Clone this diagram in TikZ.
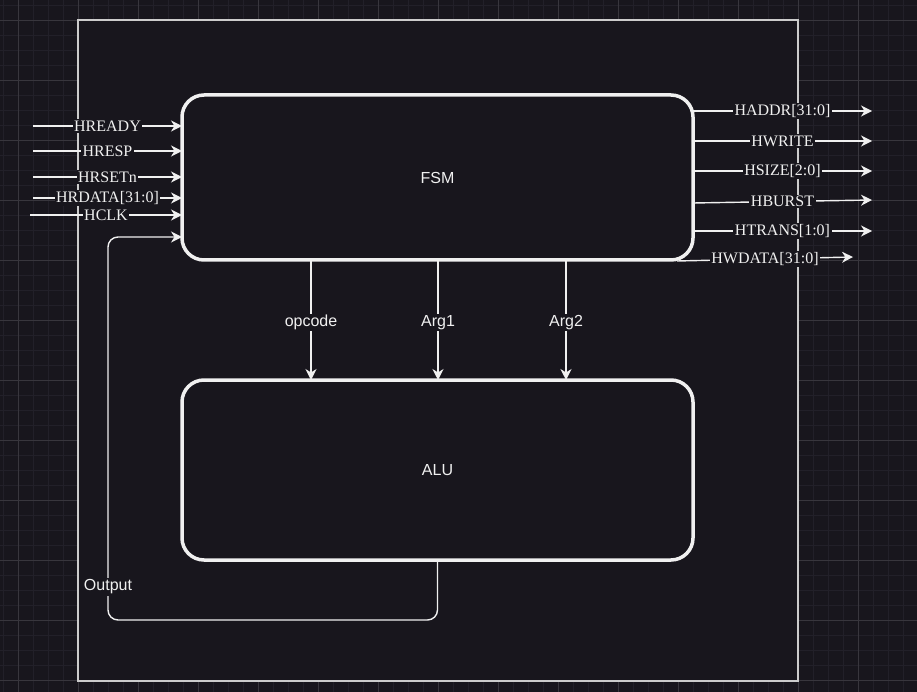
\documentclass[tikz,border=0pt]{standalone}
\usepackage{fontspec}
\setmainfont{Liberation Serif}
\newfontfamily\lsans{Liberation Sans}
\usetikzlibrary{arrows.meta}
\definecolor{bgc}{HTML}{18161D}
\definecolor{gmin}{HTML}{222029}
\definecolor{gmaj}{HTML}{38363D}
\definecolor{framec}{HTML}{CCCCCC}
\definecolor{ink}{HTML}{F0F0F0}
\begin{document}
\begin{tikzpicture}[x=1pt,y=-1pt,
  box/.style={draw=ink, line width=3.5pt, rounded corners=22pt, minimum width=511pt, inner sep=0pt, outer sep=0pt, text=ink, font=\lsans\fontsize{16}{19}\selectfont},
  wire/.style={draw=ink, line width=1.4pt, -{Stealth[length=11pt,width=11pt,inset=3.5pt]}},
  sig/.style={fill=bgc, text=ink, inner sep=1.5pt, font=\fontsize{16}{19}\selectfont},
  ssig/.style={fill=bgc, text=ink, inner sep=1.5pt, font=\lsans\fontsize{16}{19}\selectfont}]
\useasboundingbox (0,0) rectangle (917,692);
\fill[bgc] (0,0) rectangle (917,692);
% grid
\foreach \i in {0,...,61} \draw[gmin, line width=0.8pt] ({3+15*\i},0) -- ({3+15*\i},692);
\foreach \i in {0,...,46} \draw[gmin, line width=0.8pt] (0,{5+15*\i}) -- (917,{5+15*\i});
\foreach \i in {0,...,15} \draw[gmaj, line width=0.8pt] ({18+60*\i},0) -- ({18+60*\i},692);
\foreach \i in {0,...,11} \draw[gmaj, line width=0.8pt] (0,{20+60*\i}) -- (917,{20+60*\i});
% outer frame
\node[draw=framec, fill=bgc, line width=1.6pt, minimum width=720pt, minimum height=661pt, inner sep=0pt, outer sep=0pt] (outer) at (438,350.5) {};
% main blocks
\node[box, minimum height=165pt] (fsm) at (437.5,177.5) {FSM};
\node[box, minimum height=180pt] (alu) at (437.5,470) {ALU};
% inputs
\coordinate (iready) at (33,126);
\coordinate (iresp) at (33,151);
\coordinate (irst) at (33,177);
\coordinate (irdata) at (33,198);
\coordinate (iclk) at (30,215);
\draw[wire] (iready) -- (iready -| fsm.west) node[midway, sig] (lready) {HREADY};
\draw[wire] (iresp) -- (iresp -| fsm.west) node[midway, sig] (lresp) {HRESP};
\draw[wire] (irst) -- (irst -| fsm.west) node[midway, sig] (lrst) {HRSETn};
\draw[wire] (irdata) -- (irdata -| fsm.west) node[midway, sig] (lrdata) {HRDATA[31:0]};
\draw[wire] (iclk) -- (iclk -| fsm.west) node[midway, sig] (lclk) {HCLK};
% outputs
\coordinate (oaddr) at (872,111);
\coordinate (owrite) at (872,141);
\coordinate (osize) at (872,171);
\coordinate (sburst) at (693,203);
\coordinate (oburst) at (872,200);
\coordinate (otrans) at (872,231);
\coordinate (swdata) at (677,261);
\coordinate (owdata) at (853,257);
\draw[wire] (fsm.east |- oaddr) -- (oaddr) node[midway, sig] (laddr) {HADDR[31:0]};
\draw[wire] (fsm.east |- owrite) -- (owrite) node[midway, sig] (lwrite) {HWRITE};
\draw[wire] (fsm.east |- osize) -- (osize) node[midway, sig] (lsize) {HSIZE[2:0]};
\draw[wire] (sburst) -- (oburst) node[midway, sig] (lburst) {HBURST};
\draw[wire] (fsm.east |- otrans) -- (otrans) node[midway, sig] (ltrans) {HTRANS[1:0]};
\draw[wire] (swdata) -- (owdata) node[midway, sig] (lwdata) {HWDATA[31:0]};
% FSM -> ALU
\coordinate (cop) at (311,0);
\coordinate (ca1) at (438,0);
\coordinate (ca2) at (566,0);
\draw[wire] (cop |- fsm.south) -- (cop |- alu.north) node[midway, ssig, yshift=-2.5pt] (lop) {opcode};
\draw[wire] (ca1 |- fsm.south) -- (ca1 |- alu.north) node[midway, ssig, yshift=-2.5pt] (la1) {Arg1};
\draw[wire] (ca2 |- fsm.south) -- (ca2 |- alu.north) node[midway, ssig, yshift=-2.5pt] (la2) {Arg2};
% feedback
\coordinate (fbc) at (108,620);
\coordinate (fbin) at (108,237);
\draw[wire, rounded corners=10pt] (alu.south) |- (fbc) -- (fbin) -- (fbin -| fsm.west);
\node[ssig] (lout) at (108,587) {Output};
\end{tikzpicture}
\end{document}
